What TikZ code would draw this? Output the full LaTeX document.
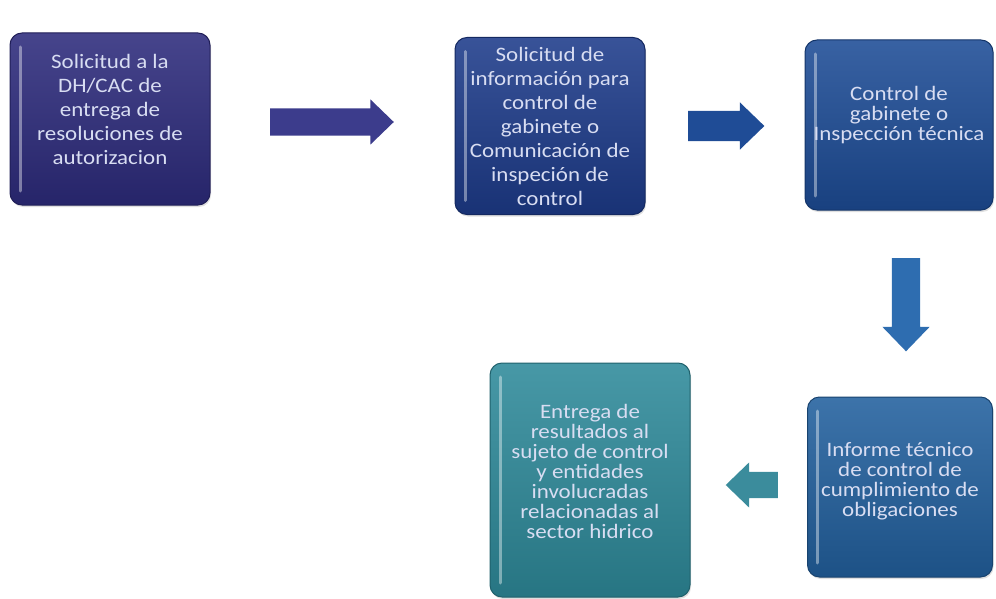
\documentclass[tikz,border=0pt]{standalone}
\usepackage{fontspec}
\setmainfont{Carlito}[FakeStretch=1.12]
\usepackage{tikz}
\usetikzlibrary{shapes.arrows,shadows}
\definecolor{cajauno}{HTML}{2D2B7C}
\definecolor{cajados}{HTML}{1D3B8A}
\definecolor{cajatres}{HTML}{1D4C96}
\definecolor{cajacuatro}{HTML}{22609E}
\definecolor{cajacinco}{HTML}{2E8A9A}
\definecolor{flechauno}{HTML}{3C3C8C}
\definecolor{flechados}{HTML}{1F4C96}
\definecolor{flechatres}{HTML}{2E6DB0}
\definecolor{flechacuatro}{HTML}{3B8C9C}
\definecolor{textoclaro}{HTML}{D8DDF2}

\tikzset{
  caja/.style={rounded corners=12pt, draw=#1!70!black, line width=1pt,
    top color=#1!88!white, bottom color=#1!85!black, text=textoclaro,
    align=center, inner sep=0pt,
    drop shadow={opacity=.25,shadow xshift=1pt,shadow yshift=-2pt},
    path picture={\draw[white,opacity=.4,line width=3pt,line cap=round]
      ([xshift=10pt,yshift=-14pt]path picture bounding box.north west) --
      ([xshift=10pt,yshift=14pt]path picture bounding box.south west);}},
  flecha/.style={single arrow, fill=#1, draw=none, inner sep=0pt,
    single arrow tip angle=88, anchor=tail},
  largo/.style={font=\fontsize{20.5}{24}\selectfont},
  corto/.style={font=\fontsize{20.5}{20}\selectfont}
}

\begin{document}
\begin{tikzpicture}[x=1pt,y=1pt]
\useasboundingbox (0,0) rectangle (996,-599);
% cajas
\node[caja=cajauno, largo, minimum width=200pt, minimum height=172pt] (sol) at (110,-119)
  {Solicitud a la\\DH/CAC de\\entrega de\\resoluciones de\\autorizacion\\[-4pt]};
\node[caja=cajados, largo, minimum width=190pt, minimum height=177pt] (info) at (550,-126)
  {Solicitud de\\información para\\control de\\gabinete o\\Comunicación de\\inspeción de\\control};
\node[caja=cajatres, corto, minimum width=188pt, minimum height=170pt] (insp) at (899,-125)
  {Control de\\gabinete o\\Inspección técnica\\[4pt]};
\node[caja=cajacuatro, corto, minimum width=185pt, minimum height=180pt] (inf) at (900,-487)
  {Informe técnico\\de control de\\cumplimiento de\\obligaciones\\[-4pt]};
\node[caja=cajacinco, corto, minimum width=200pt, minimum height=234pt] (ent) at (590,-480)
  {Entrega de\\resultados al\\sujeto de control\\y entidades\\involucradas\\relacionadas al\\sector hidrico\\[-2pt]};
% flechas
\node[flecha=flechauno, single arrow head extend=9pt] (f1) at (270,-122)
  {\rule{109pt}{0pt}\rule{0pt}{27pt}};
\node[flecha=flechados, single arrow head extend=8.5pt] (f2) at (688,-126)
  {\rule{60pt}{0pt}\rule{0pt}{30pt}};
\node[flecha=flechatres, single arrow head extend=9.5pt, rotate=-90] (f3) at (906,-258)
  {\rule{78pt}{0pt}\rule{0pt}{28pt}};
\node[flecha=flechacuatro, single arrow head extend=9.5pt, rotate=180] (f4) at (778,-485)
  {\rule{38pt}{0pt}\rule{0pt}{26pt}};
\end{tikzpicture}
\end{document}
